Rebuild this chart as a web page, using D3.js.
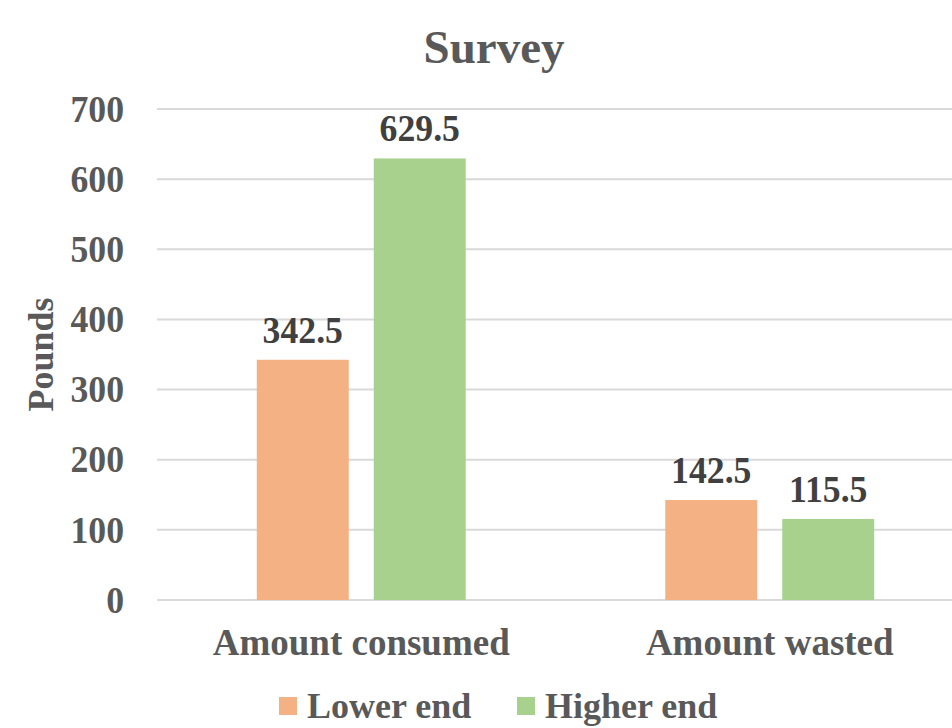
<!DOCTYPE html>
<html>
<head>
<meta charset="utf-8">
<script src="https://cdn.jsdelivr.net/npm/d3@7"></script>
<style>
  body { margin: 0; background: #fff; }
  text { font-family: "Liberation Serif", "Times New Roman", serif; font-weight: bold; }
</style>
</head>
<body>
<script>
// chart data
const categories = ['Amount consumed', 'Amount wasted'];
const seriesNames = ['Lower end', 'Higher end'];
const lowerEnd = [342.5, 142.5];
const higherEnd = [629.5, 115.5];
const yTicks = [0, 100, 200, 300, 400, 500, 600, 700];

const colors = ['#F4B183', '#A9D18E'];

const width = 952, height = 728;
const margin = { top: 109, right: -22, bottom: 128, left: 157 };

// numbers look a bit narrow in the original
const squeeze = 0.94;

const svg = d3.select('body').append('svg')
  .attr('width', width)
  .attr('height', height);

// scales
const x0 = d3.scaleBand()
  .domain(categories)
  .range([margin.left, width - margin.right])
  .padding(0);

const x1 = d3.scaleBand()
  .domain(seriesNames)
  .range([0, x0.bandwidth()])
  .paddingInner(0.214)
  .paddingOuter(0.853);

const y = d3.scaleLinear()
  .domain([0, 700])
  .range([height - margin.bottom, margin.top]);

// gridlines
svg.append('g')
  .selectAll('line')
  .data(yTicks)
  .enter().append('line')
    .attr('x1', margin.left)
    .attr('x2', width)
    .attr('y1', d => y(d))
    .attr('y2', d => y(d))
    .attr('stroke', '#D9D9D9')
    .attr('stroke-width', 2);

// y axis labels
const yAxis = d3.axisLeft(y).tickValues(yTicks).tickSize(0).tickPadding(33 / squeeze);
svg.append('g')
  .attr('transform', `translate(${margin.left},0)`)
  .call(yAxis)
  .call(g => g.select('.domain').remove())
  .selectAll('text')
    .attr('transform', `scale(${squeeze},1)`)
    .attr('fill', '#595959')
    .style('font-size', '38px')
    .style('font-family', '"Liberation Serif", serif')
    .style('font-weight', 'bold');

// y title
svg.append('text')
  .attr('transform', `translate(53, ${y(350)}) rotate(-90)`)
  .attr('text-anchor', 'middle')
  .attr('fill', '#595959')
  .style('font-size', '36px')
  .text('Pounds');

// bars
const data = categories.map((c, i) => ({
  category: c,
  values: [
    { name: seriesNames[0], value: lowerEnd[i] },
    { name: seriesNames[1], value: higherEnd[i] }
  ]
}));

const groups = svg.append('g')
  .selectAll('g')
  .data(data)
  .enter().append('g')
    .attr('transform', d => `translate(${x0(d.category)},0)`);

groups.selectAll('rect')
  .data(d => d.values)
  .enter().append('rect')
    .attr('x', d => x1(d.name))
    .attr('y', d => y(d.value))
    .attr('width', x1.bandwidth())
    .attr('height', d => y(0) - y(d.value))
    .attr('fill', (d, i) => colors[i]);

groups.selectAll('.label')
  .data(d => d.values)
  .enter().append('text')
    .attr('class', 'label')
    .attr('transform', d =>
      `translate(${x1(d.name) + x1.bandwidth() / 2},${y(d.value) - 17}) scale(${squeeze},1)`)
    .attr('text-anchor', 'middle')
    .attr('fill', '#404040')
    .style('font-size', '38px')
    .text(d => d.value.toFixed(1));

// category labels
svg.append('g')
  .selectAll('text')
  .data(categories)
  .enter().append('text')
    .attr('x', d => x0(d) + x0.bandwidth() / 2)
    .attr('y', 655)
    .attr('text-anchor', 'middle')
    .attr('fill', '#595959')
    .style('font-size', '37px')
    .text(d => d);

// title
svg.append('text')
  .attr('x', 494)
  .attr('y', 63)
  .attr('text-anchor', 'middle')
  .attr('fill', '#595959')
  .style('font-size', '47px')
  .text('Survey');

// legend
const legendX = [279, 517];
const legend = svg.append('g')
  .selectAll('g')
  .data(seriesNames)
  .enter().append('g')
    .attr('transform', (d, i) => `translate(${legendX[i]}, 697)`);

legend.append('rect')
  .attr('width', 18)
  .attr('height', 18)
  .attr('fill', (d, i) => colors[i]);

legend.append('text')
  .attr('x', 28)
  .attr('y', 21)
  .attr('fill', '#595959')
  .style('font-size', '36px')
  .text(d => d);
</script>
</body>
</html>
